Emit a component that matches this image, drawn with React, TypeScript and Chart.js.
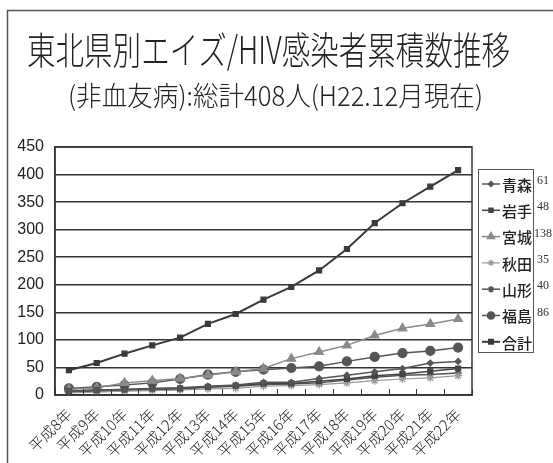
import React, { useEffect, useRef } from "react";
import { Chart, registerables } from "chart.js";
import { drawPoint } from "chart.js/helpers";

Chart.register(...registerables);

const titleText = "東北県別エイズ/HIV感染者累積数推移";
const subtitleText = "(非血友病):総計408人(H22.12月現在)";

const categories = [
  "平成8年", "平成9年", "平成10年", "平成11年", "平成12年", "平成13年", "平成14年", "平成15年",
  "平成16年", "平成17年", "平成18年", "平成19年", "平成20年", "平成21年", "平成22年",
];
const aomori = [7, 9, 10, 12, 13, 16, 18, 23, 23, 30, 36, 42, 48, 58, 61];
const iwate = [7, 9, 10, 12, 12, 15, 17, 21, 21, 25, 29, 35, 38, 43, 48];
const miyagi = [10, 13, 22, 26, 30, 36, 42, 48, 66, 78, 90, 108, 121, 129, 138];
const akita = [4, 5, 7, 8, 9, 11, 12, 16, 17, 19, 22, 26, 29, 31, 35];
const yamagata = [5, 7, 8, 10, 11, 14, 16, 19, 20, 22, 27, 32, 36, 37, 40];
const fukushima = [12, 15, 18, 22, 29, 37, 42, 46, 49, 52, 61, 69, 76, 80, 86];
const total = [45, 58, 75, 90, 104, 129, 147, 173, 196, 226, 265, 312, 348, 378, 408];

const yTicks = [0, 50, 100, 150, 200, 250, 300, 350, 400, 450];

type S = { label: string; data: number[]; color: string; style: any; radius: number; width: number; showNum: boolean };
const seriesList: S[] = [
  { label: "青森", data: aomori, color: "#555", style: "rectRot", radius: 3, width: 1.5, showNum: true },
  { label: "岩手", data: iwate, color: "#444", style: "rect", radius: 3.5, width: 1.5, showNum: true },
  { label: "宮城", data: miyagi, color: "#8a8a8a", style: "triangle", radius: 5, width: 1.5, showNum: true },
  { label: "秋田", data: akita, color: "#9a9a9a", style: "star", radius: 4, width: 1.2, showNum: true },
  { label: "山形", data: yamagata, color: "#555", style: "star", radius: 4, width: 1.5, showNum: true },
  { label: "福島", data: fukushima, color: "#555", style: "circle", radius: 4.5, width: 1.5, showNum: true },
  { label: "合計", data: total, color: "#3a3a3a", style: "rect", radius: 3.5, width: 2, showNum: false },
];

const decorPlugin = {
  id: "decor",
  beforeDraw(chart: any) {
    const ctx = chart.ctx;
    ctx.save();
    ctx.fillStyle = "#fff";
    ctx.fillRect(0, 0, chart.width, chart.height);
    ctx.strokeStyle = "#555";
    ctx.lineWidth = 1.5;
    ctx.beginPath();
    ctx.moveTo(7.5, chart.height);
    ctx.lineTo(7.5, 10.5);
    ctx.lineTo(chart.width, 10.5);
    ctx.stroke();
    ctx.fillStyle = "#222";
    ctx.textBaseline = "alphabetic";
    ctx.textAlign = "left";
    ctx.font = '300 38px "Noto Sans CJK JP", sans-serif';
    ctx.fillText(titleText, 27, 64, 483);
    ctx.font = '300 27px "Noto Sans CJK JP", sans-serif';
    ctx.fillText(subtitleText, 68, 106, 415);
    ctx.restore();
  },
  afterDatasetsDraw(chart: any) {
    const ctx = chart.ctx;
    const a = chart.chartArea;
    ctx.save();
    ctx.strokeStyle = "#333";
    ctx.lineWidth = 1.5;
    ctx.strokeRect(a.left, a.top, a.right - a.left, a.bottom - a.top);
    const n = categories.length;
    const w = (a.right - a.left) / n;
    ctx.lineWidth = 1;
    ctx.beginPath();
    for (let i = 0; i <= n; i++) {
      const x = Math.round(a.left + i * w) + 0.5;
      ctx.moveTo(x, a.bottom);
      ctx.lineTo(x, a.bottom - 6);
    }
    ctx.stroke();
    const bx = 478, by = 169, bw = 55, bh = 183;
    ctx.lineWidth = 1;
    ctx.strokeStyle = "#555";
    ctx.strokeRect(bx + 0.5, by + 0.5, bw, bh);
    const step = 26.3;
    seriesList.forEach((s, i) => {
      const y = by + 15 + i * step;
      ctx.strokeStyle = s.color;
      ctx.fillStyle = s.color;
      ctx.lineWidth = s.width;
      ctx.beginPath();
      ctx.moveTo(482, y);
      ctx.lineTo(500, y);
      ctx.stroke();
      drawPoint(ctx, { pointStyle: s.style, radius: s.radius * 0.8, rotation: 0, borderWidth: 1 } as any, 491, y);
      ctx.fillStyle = "#222";
      ctx.font = '500 15px "Noto Sans CJK JP", sans-serif';
      ctx.textBaseline = "middle";
      ctx.textAlign = "left";
      ctx.fillText(s.label, 502, y + 1, 30);
      if (s.showNum) {
        ctx.font = '12px "Liberation Serif", serif';
        ctx.textAlign = "center";
        ctx.fillStyle = "#333";
        ctx.fillText(String(s.data[s.data.length - 1]), 543, y - 3);
      }
    });
    ctx.restore();
  },
};

export default function App() {
  const ref = useRef<HTMLCanvasElement | null>(null);
  useEffect(() => {
    if (!ref.current) return;
    const chart = new Chart(ref.current, {
      type: "line",
      data: {
        labels: categories,
        datasets: seriesList.map((s) => ({
          label: s.label,
          data: s.data,
          borderColor: s.color,
          backgroundColor: s.color,
          pointBackgroundColor: s.color,
          pointBorderColor: s.color,
          borderWidth: s.width,
          pointStyle: s.style,
          pointRadius: s.radius,
          pointBorderWidth: 1.2,
          tension: 0,
        })),
      },
      options: {
        responsive: false,
        animation: false,
        layout: { padding: { top: 147, right: 81, left: 0, bottom: 0 } },
        plugins: { legend: { display: false }, title: { display: false }, tooltip: { enabled: false } },
        scales: {
          x: {
            offset: true,
            grid: { display: false, offset: true },
            border: { display: true, color: "#333", width: 1.5 },
            ticks: {
              autoSkip: false,
              minRotation: 45,
              maxRotation: 45,
              color: "#222",
              padding: 2,
              font: { family: '"Noto Sans CJK JP", sans-serif', size: 15, weight: "300" as any },
            },
            afterFit: (s: any) => { s.height = 68; },
          },
          y: {
            min: 0,
            max: 450,
            afterBuildTicks: (s: any) => { s.ticks = yTicks.map((v) => ({ value: v })); },
            grid: { color: "#333", lineWidth: 1.5, drawTicks: false },
            border: { display: true, color: "#333", width: 1.5 },
            ticks: {
              color: "#222",
              padding: 11,
              font: { family: '"Liberation Sans Narrow", "Liberation Sans", sans-serif', size: 16 },
            },
            afterFit: (s: any) => { s.width = 55; },
          },
        },
      },
      plugins: [decorPlugin],
    });
    return () => chart.destroy();
  }, []);
  return (
    <div style={{ position: "absolute", left: 0, top: 0, width: 553, height: 463 }}>
      <canvas ref={ref} width={553} height={463} />
    </div>
  );
}
